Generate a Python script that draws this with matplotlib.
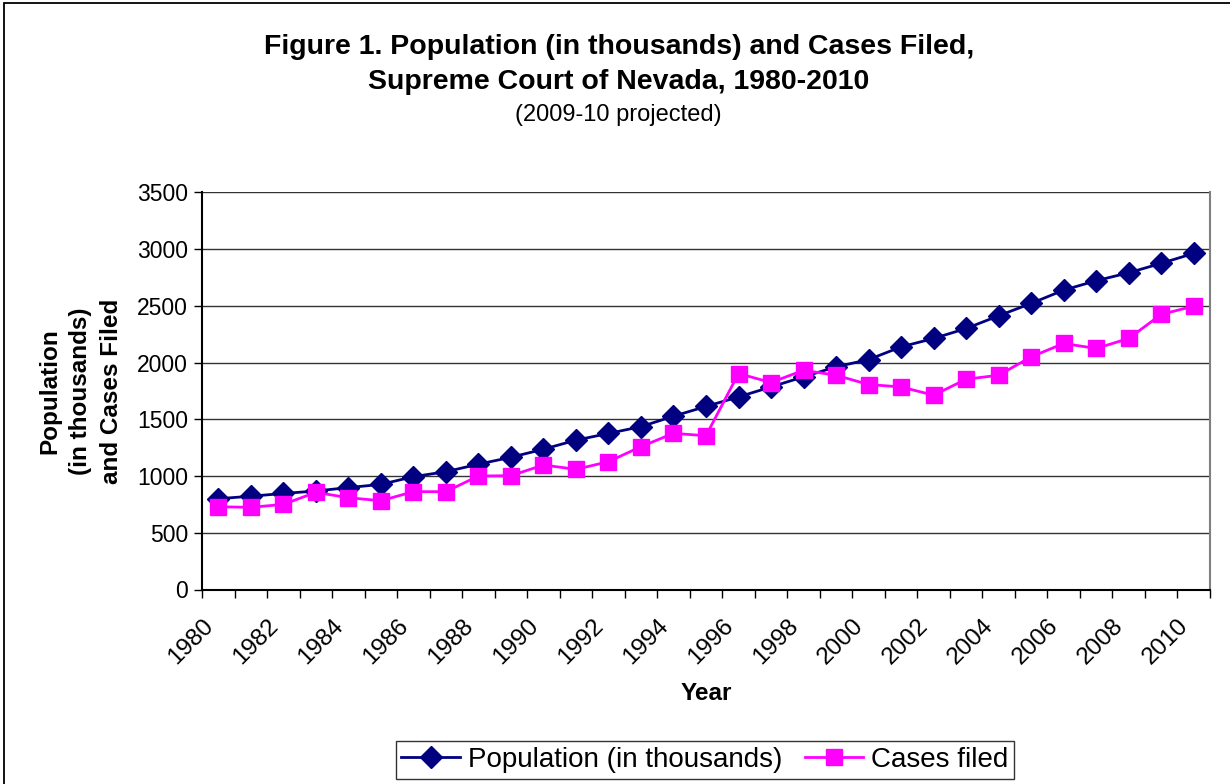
import numpy as np
import matplotlib.pyplot as plt
from matplotlib.patches import Rectangle

plt.rcParams['font.family'] = ['Liberation Sans', 'DejaVu Sans']

years = list(range(1980, 2011))
population = [800, 822, 846, 868, 898, 926, 994, 1038, 1104, 1165,
              1236, 1316, 1375, 1435, 1527, 1613, 1697, 1785, 1874, 1962,
              2026, 2138, 2212, 2300, 2412, 2521, 2638, 2721, 2791, 2874,
              2962]
cases = [729, 724, 750, 856, 809, 782, 862, 862, 1000, 1003,
         1097, 1059, 1126, 1259, 1376, 1355, 1903, 1824, 1932, 1888,
         1806, 1785, 1712, 1853, 1888, 2050, 2168, 2124, 2212, 2424,
         2497]
year_labels = [str(y) if y % 2 == 0 else '' for y in years]

fig = plt.figure(figsize=(12.3, 7.84), dpi=100)
ax = fig.add_axes([202 / 1230, 1 - 589.5 / 784, (1210 - 202) / 1230, (589.5 - 192.3) / 784])

# outer chart frame (only left and top edges show in the reference)
fig.patches.append(Rectangle((4 / 1230, -0.1), 1.2, (1 - 3 / 784) + 0.1,
                             transform=fig.transFigure, fill=False,
                             edgecolor='black', linewidth=1.3))

x = np.arange(len(years))
ax.plot(x, population, color='#000080', marker='D', ms=11, linewidth=2,
        label='Population (in thousands)')
ax.plot(x, cases, color='#FF00FF', marker='s', ms=11, linewidth=2,
        label='Cases filed')

ax.set_xlim(-0.5, len(years) - 0.5)
ax.set_ylim(0, 3500)
ax.set_yticks(np.arange(0, 3501, 500))
ax.yaxis.grid(True, color='#333333', linewidth=1)
ax.set_axisbelow(True)

# ticks sit between categories; rotated labels end at the left tick of each year
ax.set_xticks(np.append(x - 0.5, len(years) - 0.5))
ax.set_xticklabels(year_labels + [''], rotation=45, ha='right',
                   rotation_mode='anchor', fontsize=17.5)
ax.tick_params(axis='x', length=6, width=1, direction='out', pad=12)
ax.tick_params(axis='y', length=6, width=1, direction='out', labelsize=16.5, pad=4)

ax.spines['left'].set_linewidth(1.5)
ax.spines['bottom'].set_linewidth(1.5)
ax.spines['top'].set_visible(False)
ax.spines['right'].set_color('#808080')
ax.spines['right'].set_linewidth(1.5)

ax.set_xlabel('Year', fontsize=17.5, fontweight='bold', labelpad=10)
ax.set_ylabel('Population\n(in thousands)\nand Cases Filed', fontsize=17.5,
              fontweight='bold', labelpad=10, linespacing=1.45)

fig.text(0.503, 1 - 47 / 784, 'Figure 1. Population (in thousands) and Cases Filed,',
         ha='center', va='center', fontsize=20.5, fontweight='bold')
fig.text(0.503, 1 - 82 / 784, 'Supreme Court of Nevada, 1980-2010',
         ha='center', va='center', fontsize=20.5, fontweight='bold')
fig.text(0.503, 1 - 115 / 784, '(2009-10 projected)',
         ha='center', va='center', fontsize=17)

leg = fig.legend(loc='center', bbox_to_anchor=(705 / 1230, 1 - 760 / 784), ncol=2,
                 fontsize=20, frameon=True, fancybox=False, handlelength=2.1,
                 columnspacing=0.8, handletextpad=0.3, borderpad=0.2)
leg.get_frame().set_edgecolor('black')
leg.get_frame().set_linewidth(1)

fig.savefig('out.png', dpi=100)
